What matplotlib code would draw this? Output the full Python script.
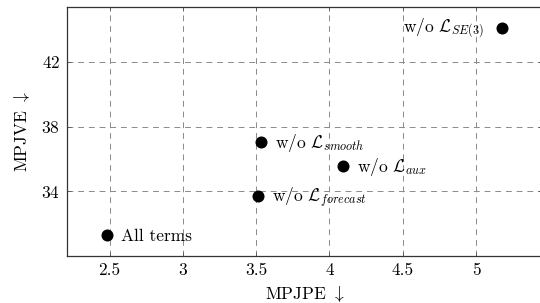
import matplotlib
matplotlib.use("Agg")
import matplotlib.pyplot as plt

plt.rcParams["font.family"] = "serif"
plt.rcParams["font.serif"] = ["cmr10", "DejaVu Serif"]
plt.rcParams["mathtext.fontset"] = "cm"
plt.rcParams["axes.formatter.use_mathtext"] = True
plt.rcParams["font.size"] = 12.5

# ablation results
names = ["All terms", r"w/o $\mathcal{L}_{smooth}$", r"w/o $\mathcal{L}_{forecast}$",
         r"w/o $\mathcal{L}_{aux}$", r"w/o $\mathcal{L}_{SE(3)}$"]
mpjpe = [2.48, 3.53, 3.51, 4.09, 5.18]
mpjve = [31.3, 37.05, 33.7, 35.6, 44.1]
label_side = ["right", "right", "right", "right", "left"]

xticks = [2.5, 3, 3.5, 4, 4.5, 5]
yticks = [34, 38, 42]

fig = plt.figure(figsize=(5.4, 3.03), dpi=100)
ax = fig.add_axes([67/540, 47/303, 475/540, 249/303])

ax.scatter(mpjpe, mpjve, s=75, color="black", zorder=3, linewidths=0)
for x, y, name, side in zip(mpjpe, mpjve, names, label_side):
    if side == "right":
        ax.annotate(name, (x, y), xytext=(10.5, -1), textcoords="offset points",
                    ha="left", va="center")
    else:
        ax.annotate(name, (x, y), xytext=(-13.5, -1), textcoords="offset points",
                    ha="right", va="center")

# pgfplots-like enlarged limits (10% each side)
xr = max(mpjpe) - min(mpjpe)
yr = max(mpjve) - min(mpjve)
ax.set_xlim(min(mpjpe) - 0.1*xr, max(mpjpe) + 0.1*xr)
ax.set_ylim(min(mpjve) - 0.1*yr, max(mpjve) + 0.1*yr)

ax.set_xticks(xticks)
ax.set_xticklabels(["2.5", "3", "3.5", "4", "4.5", "5"])
ax.set_yticks(yticks)
ax.grid(True, color="#8a8a8a", linestyle=(0, (6, 5)), linewidth=0.7)
ax.tick_params(direction="in", length=3, width=0.6, color="#555555",
               top=True, right=True, pad=5)
for sp in ax.spines.values():
    sp.set_linewidth(0.9)
    sp.set_color("#333333")

ax.set_xlabel(r"MPJPE $\downarrow$", labelpad=4)
ax.set_ylabel(r"MPJVE $\downarrow$", labelpad=7)

fig.savefig("out.png", dpi=100)
